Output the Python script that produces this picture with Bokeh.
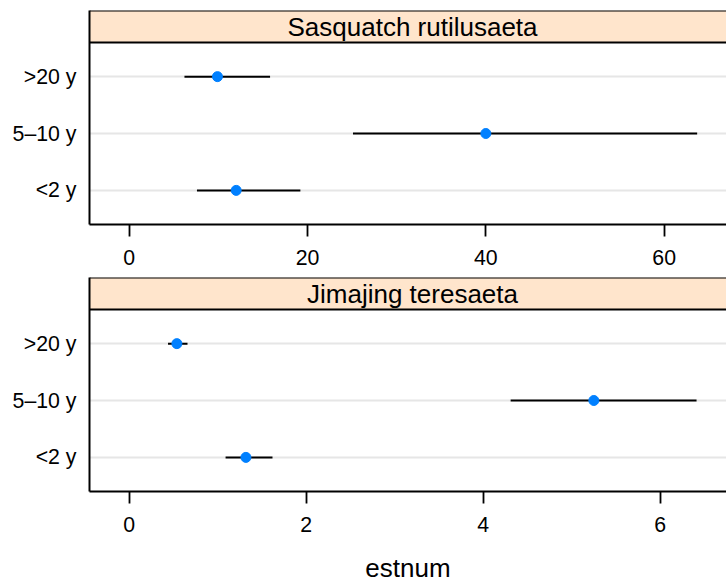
from bokeh.plotting import figure
from bokeh.layouts import column
from bokeh.models import (FixedTicker, Range1d, BoxAnnotation, Span, Label,
                          ColumnDataSource)
from bokeh.embed import file_html
from bokeh.resources import INLINE

# ---------------- data ----------------
categories = ["<2 y", "5\u201310 y", ">20 y"]

sas_title = "Sasquatch rutilusaeta"
sas_est = [12.0, 40.0, 9.9]
sas_lo = [7.6, 25.1, 6.2]
sas_hi = [19.2, 63.7, 15.8]
sas_ticks = [0, 20, 40, 60]

jim_title = "Jimajing teresaeta"
jim_est = [1.32, 5.25, 0.54]
jim_lo = [1.09, 4.31, 0.44]
jim_hi = [1.62, 6.41, 0.66]
jim_ticks = [0, 2, 4, 6]

x_label = "estnum"

# ---------------- layout constants ----------------
FONT = "Liberation Sans"
TICK_FS = "21.3px"
BIG_FS = "26px"
FRAME_W = 637          # visible part of the panel
FULL_W = 646           # panel width before cropping at the window edge
PANEL_H = 182
STRIP_H = 32
FRAME_H = PANEL_H + STRIP_H
Y_LO, Y_HI = 0.4, len(categories) + 0.6
Y_STRIP_TOP = Y_HI + (Y_HI - Y_LO) * STRIP_H / PANEL_H
FULL_LIMS = {sas_title: (-4.45, 68.0), jim_title: (-0.447, 6.85)}


def panel(title, est, lo, hi, ticks, top_border, bottom_border, xlab=None):
    xl, xh = FULL_LIMS[title]
    x_end = xl + (xh - xl) * FRAME_W / FULL_W
    p = figure(frame_width=FRAME_W, frame_height=FRAME_H,
               min_border_left=89, min_border_right=0,
               min_border_top=top_border, min_border_bottom=bottom_border,
               x_range=Range1d(xl, x_end), y_range=Range1d(Y_LO, Y_STRIP_TOP),
               output_backend="svg", toolbar_location=None)
    p.outline_line_color = None
    p.background_fill_color = "white"
    p.border_fill_color = "white"

    ys = [i + 1 for i in range(len(categories))]
    src = ColumnDataSource(dict(y=ys, est=est, lo=lo, hi=hi))

    # strip
    p.add_layout(BoxAnnotation(bottom=Y_HI, fill_color="#FFE5CC", fill_alpha=1.0,
                               line_color=None, level="underlay"))
    p.add_layout(Span(location=Y_HI, dimension="width", line_color="black",
                      line_width=2))
    p.add_layout(Span(location=Y_STRIP_TOP, dimension="width", line_color="black",
                      line_width=2))
    p.add_layout(Label(x=(xl + xh) / 2, y=(Y_HI + Y_STRIP_TOP) / 2, text=title,
                       text_align="center", text_baseline="middle",
                       text_font=FONT, text_font_size=BIG_FS, text_color="black"))

    # grid
    p.xgrid.visible = False
    p.ygrid.ticker = FixedTicker(ticks=ys)
    p.ygrid.grid_line_color = "#E6E6E6"
    p.ygrid.grid_line_width = 2

    # data
    p.segment(x0="lo", y0="y", x1="hi", y1="y", source=src,
              line_color="black", line_width=2)
    p.scatter(x="est", y="y", source=src, size=10, marker="circle",
              fill_color="#0080FF", line_color="#0080FF")

    # axes
    yax = p.yaxis[0]
    yax.ticker = FixedTicker(ticks=ys)
    yax.major_label_overrides = {y: c for y, c in zip(ys, categories)}
    yax.major_tick_out = 0
    yax.major_tick_in = 0
    yax.minor_tick_out = 0
    yax.minor_tick_in = 0
    yax.axis_line_color = "black"
    yax.axis_line_width = 2
    yax.major_label_standoff = 13
    yax.major_label_text_font = FONT
    yax.major_label_text_font_size = TICK_FS
    yax.major_label_text_color = "black"

    xax = p.xaxis[0]
    xax.ticker = FixedTicker(ticks=ticks)
    xax.major_tick_out = 12
    xax.major_tick_in = 0
    xax.minor_tick_out = 0
    xax.minor_tick_in = 0
    xax.major_tick_line_width = 1.8
    xax.major_tick_line_color = "black"
    xax.axis_line_color = "black"
    xax.axis_line_width = 2
    xax.major_label_standoff = 13
    xax.major_label_text_font = FONT
    xax.major_label_text_font_size = TICK_FS
    xax.major_label_text_color = "black"
    if xlab:
        xax.axis_label = xlab
        xax.axis_label_text_font = FONT
        xax.axis_label_text_font_size = BIG_FS
        xax.axis_label_text_font_style = "normal"
        xax.axis_label_text_color = "black"
        xax.axis_label_standoff = 18
    return p


p1 = panel(sas_title, sas_est, sas_lo, sas_hi, sas_ticks, 10, 46)
p2 = panel(jim_title, jim_est, jim_lo, jim_hi, jim_ticks, 7, 90, xlab=x_label)

layout = column(p1, p2, spacing=0)
open("out.html", "w").write(file_html(layout, INLINE))
